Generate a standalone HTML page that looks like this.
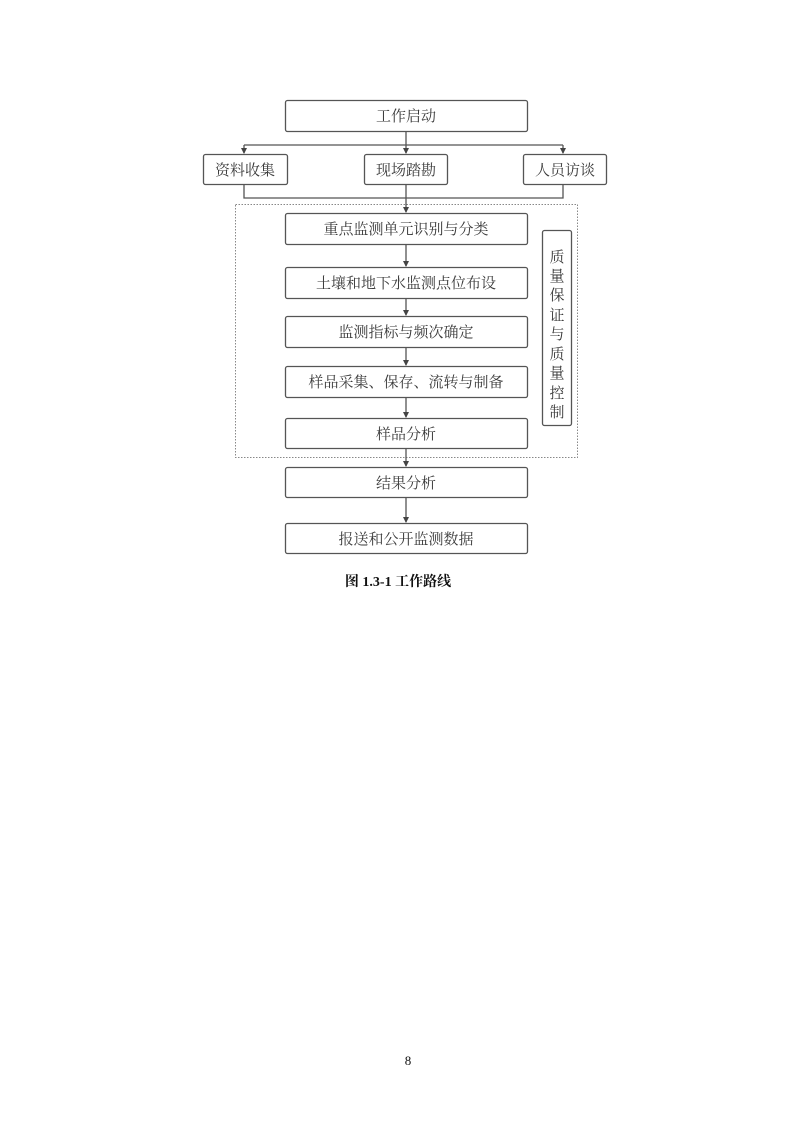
<!DOCTYPE html>
<html><head><meta charset="utf-8"><style>
html,body{margin:0;padding:0;background:#fff;}
svg{display:block;}
text{font-family:"Liberation Serif","Noto Serif CJK SC","Noto Sans CJK SC",serif;fill:#3a3a3a;font-size:15px;}
</style></head><body>
<svg width="793" height="1122" viewBox="0 0 793 1122" xmlns="http://www.w3.org/2000/svg">
<defs><marker id="a" markerWidth="6" markerHeight="6" refX="5" refY="3" orient="auto" markerUnits="userSpaceOnUse"><path d="M0,0 L6,3 L0,6 z" fill="#444"/></marker></defs>
<g fill="none" stroke="#555" stroke-width="1.3">
<rect x="285.5" y="100.5" width="242" height="31" rx="2"/>
<rect x="203.5" y="154.5" width="84" height="30" rx="2"/>
<rect x="364.5" y="154.5" width="83" height="30" rx="2"/>
<rect x="523.5" y="154.5" width="83" height="30" rx="2"/>
<rect x="285.5" y="213.5" width="242" height="31" rx="2"/>
<rect x="285.5" y="267.5" width="242" height="31" rx="2"/>
<rect x="285.5" y="316.5" width="242" height="31" rx="2"/>
<rect x="285.5" y="366.5" width="242" height="31" rx="2"/>
<rect x="285.5" y="418.5" width="242" height="30" rx="2"/>
<rect x="285.5" y="467.5" width="242" height="30" rx="2"/>
<rect x="285.5" y="523.5" width="242" height="30" rx="2"/>
<rect x="542.5" y="230.5" width="29" height="195" rx="2"/>
<rect x="235.5" y="204.5" width="342" height="253" stroke-dasharray="1.5,1.5" stroke="#888" stroke-width="1"/>
<path d="M406,131 V145 M244,145 H563 M244,145 V153 M563,145 V153 M406,145 V153" />
<path d="M244,184 V198 H563 V184 M406,184 V212 M406,244 V266 M406,298 V315 M406,347 V365 M406,397 V417 M406,448 V466 M406,497 V522"/>
</g>
<g fill="#444">
<path d="M241,148 L247,148 L244,154 z M560,148 L566,148 L563,154 z M403,148 L409,148 L406,154 z"/>
<path d="M403,207 L409,207 L406,213 z M403,261 L409,261 L406,267 z M403,310 L409,310 L406,316 z M403,360 L409,360 L406,366 z M403,412 L409,412 L406,418 z M403,461 L409,461 L406,467 z M403,517 L409,517 L406,523 z"/>
</g>
<g text-anchor="middle">
<text x="406" y="121">工作启动</text>
<text x="245" y="175">资料收集</text>
<text x="406" y="175">现场踏勘</text>
<text x="565" y="175">人员访谈</text>
<text x="406" y="234">重点监测单元识别与分类</text>
<text x="406" y="288">土壤和地下水监测点位布设</text>
<text x="406" y="337">监测指标与频次确定</text>
<text x="406" y="387">样品采集、保存、流转与制备</text>
<text x="406" y="439">样品分析</text>
<text x="406" y="488">结果分析</text>
<text x="406" y="544">报送和公开监测数据</text>
<text x="557" y="262">质</text>
<text x="557" y="281">量</text>
<text x="557" y="300">保</text>
<text x="557" y="320">证</text>
<text x="557" y="339">与</text>
<text x="557" y="359">质</text>
<text x="557" y="378">量</text>
<text x="557" y="398">控</text>
<text x="557" y="417">制</text>
<text x="398" y="586" style="font-weight:bold;fill:#111;font-size:14px">图 1.3-1  工作路线</text>
<text x="408" y="1065" style="fill:#111;font-size:13px">8</text>
</g>
</svg>
</body></html>
